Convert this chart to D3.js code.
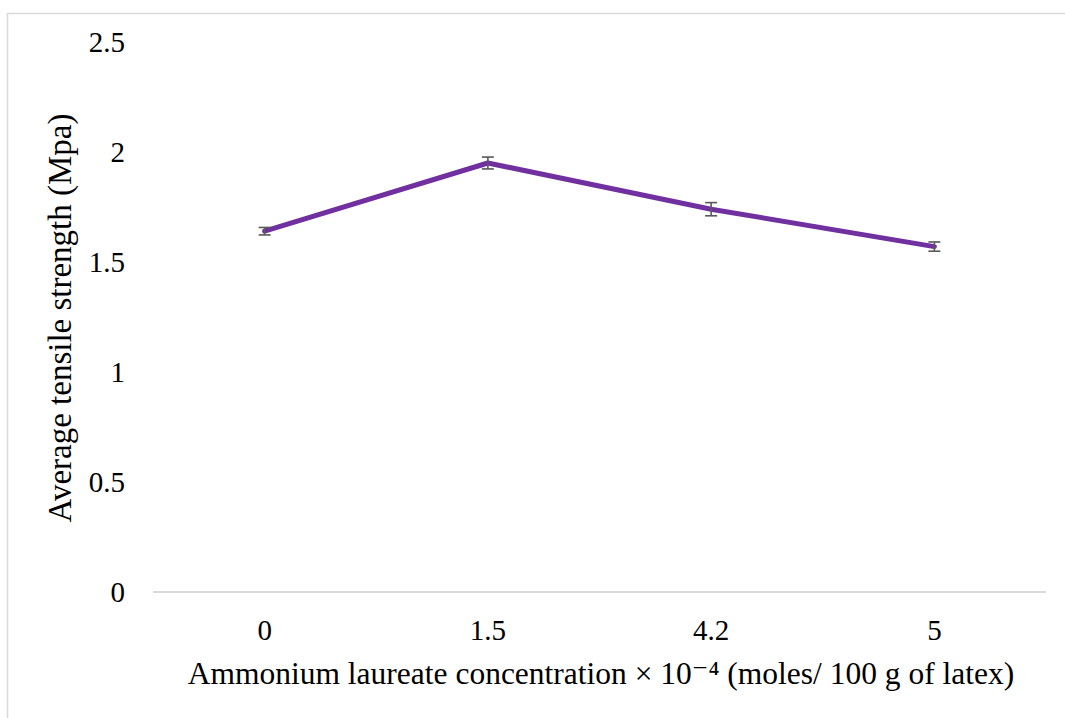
<!DOCTYPE html>
<html>
<head>
<meta charset="utf-8">
<script src="https://cdn.jsdelivr.net/npm/d3@7"></script>
<style>
html,body{margin:0;padding:0;background:#fff;}
svg{display:block;}
</style>
</head>
<body>
<svg id="chart" width="1065" height="718"></svg>
<script>
const categories = ["0", "1.5", "4.2", "5"];
const values = [1.64, 1.95, 1.74, 1.57];
const errors = [0.017, 0.027, 0.03, 0.021];
const yTicks = [0, 0.5, 1, 1.5, 2, 2.5];
const xTitle = "Ammonium laureate concentration × 10⁻⁴ (moles/ 100 g of latex)";
const yTitle = "Average tensile strength (Mpa)";

const FONT = "'Liberation Serif', 'Times New Roman', Times, 'DejaVu Serif', serif";
const svg = d3.select("#chart");
const W = 1065, H = 718;
const m = {left:153, right:1046, top:42, bottom:592};

svg.append("rect").attr("x",7.5).attr("y",13.5).attr("width",W+10).attr("height",H+10)
  .attr("fill","#fff").attr("stroke","#d9d9d9").attr("stroke-width",1.5);

const x = d3.scaleBand().domain(categories).range([m.left, m.right]);
const y = d3.scaleLinear().domain([0, 2.5]).range([m.bottom, m.top]);

svg.append("line").attr("x1",m.left).attr("x2",m.right)
  .attr("y1",y(0)).attr("y2",y(0)).attr("stroke","#d9d9d9").attr("stroke-width",2);

const yAxis = d3.axisLeft(y).tickValues(yTicks).tickSize(0).tickPadding(0).tickFormat(d=>String(d));
const gy = svg.append("g").attr("transform",`translate(125,0)`).call(yAxis)
  .attr("font-family", null).attr("font-size", null);
gy.select(".domain").remove();
gy.selectAll("text").style("font-family",FONT).style("font-size","29px").attr("fill","#000").attr("dy","0.33em");

const xAxis = d3.axisBottom(x).tickSize(0).tickPadding(0);
const gx = svg.append("g").attr("transform",`translate(0,${y(0)+27})`).call(xAxis)
  .attr("font-family", null).attr("font-size", null);
gx.select(".domain").remove();
gx.selectAll("text").style("font-family",FONT).style("font-size","29px").attr("fill","#000");

const cx = d => x(d) + x.bandwidth()/2;
const line = d3.line().x((d,i)=>cx(categories[i])).y(d=>y(d));
svg.append("path").datum(values).attr("d",line).attr("fill","none")
  .attr("stroke","#7030a0").attr("stroke-width",5).attr("stroke-linejoin","round").attr("stroke-linecap","round");

const eb = svg.append("g").attr("stroke","#595959").attr("stroke-width",1.6);
values.forEach((v,i)=>{
  const px = cx(categories[i]);
  eb.append("line").attr("x1",px).attr("x2",px).attr("y1",y(v+errors[i])).attr("y2",y(v-errors[i]));
  [v+errors[i], v-errors[i]].forEach(e=>{
    eb.append("line").attr("x1",px-6).attr("x2",px+6).attr("y1",y(e)).attr("y2",y(e));
  });
});

svg.append("text").attr("x",601).attr("y",684).attr("text-anchor","middle")
  .style("font-family",FONT).style("font-size","31.5px").attr("fill","#000").text(xTitle);
svg.append("text").attr("transform",`translate(71,318) rotate(-90)`).attr("text-anchor","middle")
  .style("font-family",FONT).style("font-size","33px").attr("fill","#000").text(yTitle);
</script>
</body>
</html>
